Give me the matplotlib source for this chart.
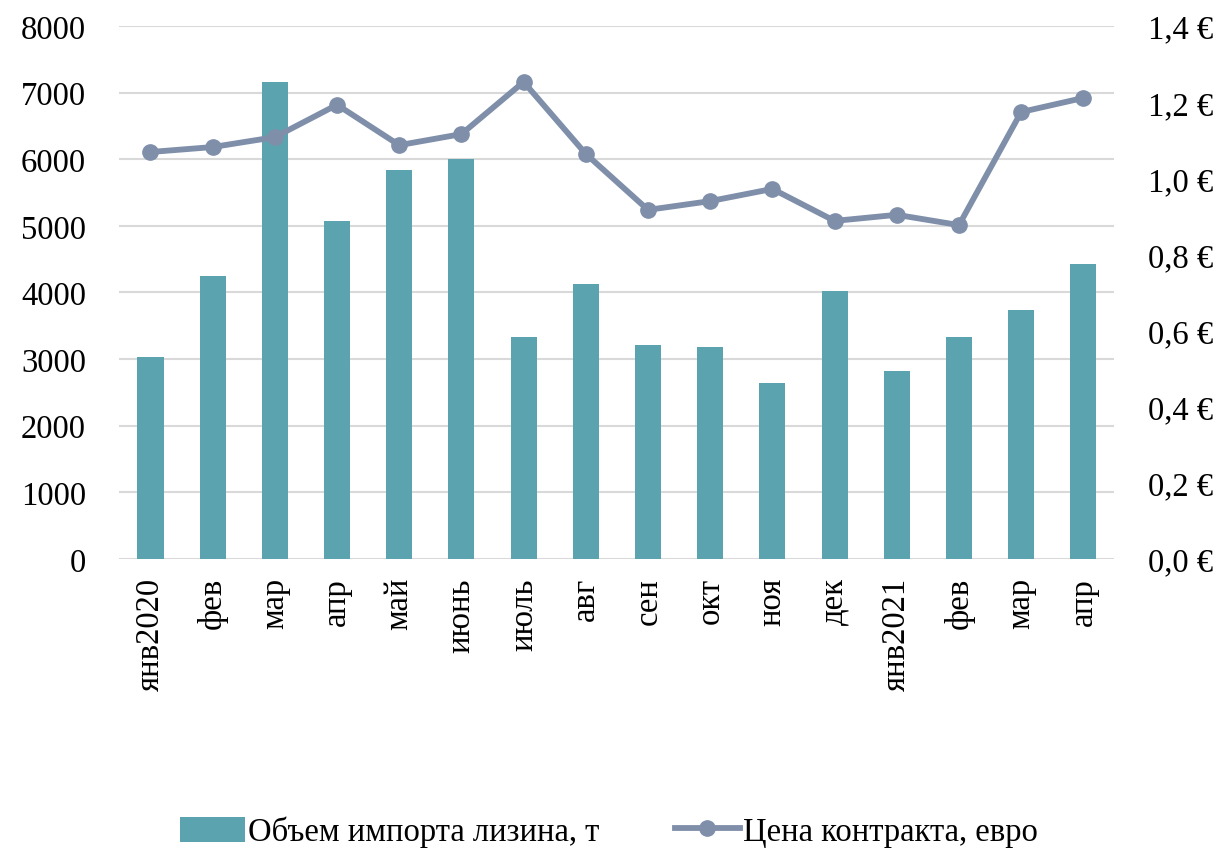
import numpy as np
import matplotlib
matplotlib.use('Agg')
import matplotlib.pyplot as plt
from matplotlib.ticker import FuncFormatter

plt.rcParams['font.family'] = ['Liberation Serif', 'DejaVu Serif']

months = ['янв2020', 'фев', 'мар', 'апр', 'май', 'июнь', 'июль', 'авг',
          'сен', 'окт', 'ноя', 'дек', 'янв2021', 'фев', 'мар', 'апр']
volume = [3030, 4250, 7160, 5075, 5840, 6005, 3335, 4130,
          3210, 3185, 2645, 4025, 2825, 3335, 3740, 4430]
price = [1.069, 1.082, 1.108, 1.193, 1.087, 1.116, 1.253, 1.064,
         0.917, 0.940, 0.972, 0.888, 0.904, 0.877, 1.174, 1.211]

BAR_C = '#5BA3AE'
LINE_C = '#7F8FAA'
FS = 23.5

fig = plt.figure(figsize=(12.18, 8.54), dpi=100)
ax = fig.add_axes([0.098, 0.3443, 0.817, 0.6241])
x = np.arange(len(months))

b = ax.bar(x, volume, width=0.42, color=BAR_C, zorder=3)
ax.set_ylim(0, 8000)
ax.set_yticks(range(0, 8001, 1000))
ax.set_xlim(-0.5, len(months) - 0.5)
ax.grid(axis='y', color='#D9D9D9', linewidth=1.5, zorder=0)
for s in ax.spines.values():
    s.set_visible(False)
ax.tick_params(length=0, labelsize=FS)
ax.tick_params(axis='y', pad=24)
ax.set_xticks(x)
ax.set_xticklabels(months, rotation=90, fontsize=FS)
ax.tick_params(axis='x', pad=13)

ax2 = ax.twinx()
l, = ax2.plot(x, price, color=LINE_C, lw=4.2, marker='o', ms=11, zorder=4)
ax2.set_ylim(0, 1.4)
ax2.set_yticks(np.arange(0, 1.41, 0.2))
ax2.yaxis.set_major_formatter(FuncFormatter(lambda v, p: f'{v:.1f} €'.replace('.', ',')))
for s in ax2.spines.values():
    s.set_visible(False)
ax2.tick_params(length=0, labelsize=FS, pad=24)

fig.legend([b, l], ['Объем импорта лизина, т', 'Цена контракта, евро'],
           loc='center', bbox_to_anchor=(0.5, 0.025), ncol=2, frameon=False,
           fontsize=FS, handlelength=2.0, handleheight=0.8,
           handletextpad=0.1, columnspacing=2.3)

fig.savefig('out.png', dpi=100)
